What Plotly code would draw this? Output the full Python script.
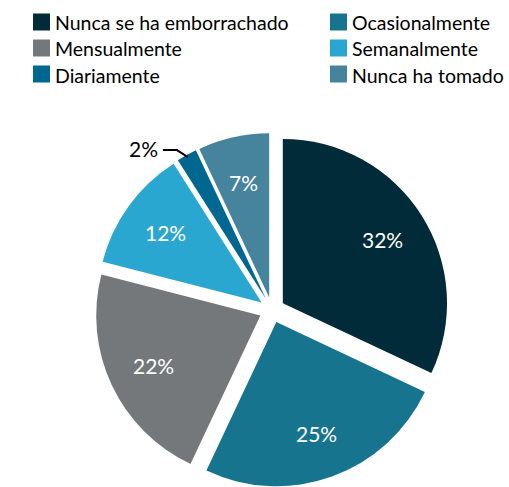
import math
import plotly.graph_objects as go

labels = ["Nunca se ha emborrachado", "Ocasionalmente", "Mensualmente",
          "Semanalmente", "Diariamente", "Nunca ha tomado"]
values = [32, 25, 22, 12, 2, 7]
colors = ["#022b3a", "#17748f", "#75787b", "#2aa7d0", "#006890", "#46849d"]

W, H = 509, 487
FONT = "Lato, 'Noto Sans', sans-serif"
PULL = 0.078

# pie geometry (pixels, from the top-left corner)
CX, CY, HALF = 272, 310, 177
R = HALF / (1 + PULL)
D = PULL * R

fig = go.Figure(go.Pie(
    labels=labels, values=values, sort=False, direction="clockwise", rotation=0,
    marker=dict(colors=colors, line=dict(width=0)),
    pull=[PULL] * len(values),
    textinfo="none",
    showlegend=False, hoverinfo="label+percent",
    domain=dict(x=[(CX - HALF) / W, (CX + HALF) / W], y=[0, 2 * HALF / H]),
))


def px(x):
    return x / W


def py(y):
    return 1 - y / H


shapes, annotations = [], []

# slice labels, placed from the values
total = sum(values)
cum = 0
for v in values:
    theta = math.radians((cum + v / 2) / total * 360)
    cum += v
    sx, sy = math.sin(theta), -math.cos(theta)
    vx, vy = CX + D * sx, CY + D * sy
    txt = f"{v}%"
    if v >= 5:
        lx, ly = vx + 0.72 * R * sx, vy + 0.72 * R * sy
        annotations.append(dict(text=txt, xref="paper", yref="paper",
                                x=px(lx), y=py(ly), showarrow=False,
                                xanchor="center", yanchor="middle",
                                font=dict(family=FONT, size=21, color="#ffffff")))
    else:
        x0, y0 = vx + 0.985 * R * sx, vy + 0.985 * R * sy
        x1, y1 = x0 - 11, y0 - 7
        x2, y2 = x1 - 14, y1
        shapes.append(dict(type="path", xref="paper", yref="paper",
                           path=f"M {px(x0)} {py(y0)} L {px(x1)} {py(y1)} L {px(x2)} {py(y2)}",
                           line=dict(color="#000000", width=2)))
        annotations.append(dict(text=txt, xref="paper", yref="paper",
                                x=px(x2 - 3), y=py(y2 - 2), showarrow=False,
                                xanchor="right", yanchor="middle",
                                font=dict(family=FONT, size=21, color="#000000")))

# custom legend, two columns by three rows
col_x = [33, 330]
row_y = [22, 48, 74]
sw = 17
for i, (lab, col) in enumerate(zip(labels, colors)):
    r, c = divmod(i, 2)
    x0 = col_x[c]
    yc = row_y[r]
    shapes.append(dict(type="rect", xref="paper", yref="paper",
                       x0=px(x0), x1=px(x0 + sw),
                       y0=py(yc + sw / 2), y1=py(yc - sw / 2),
                       fillcolor=col, line=dict(width=0)))
    annotations.append(dict(text=lab, xref="paper", yref="paper",
                            x=px(x0 + sw + 3), y=py(yc + 1),
                            xanchor="left", yanchor="middle", showarrow=False,
                            font=dict(family=FONT, size=19.5, color="#000000")))

fig.update_layout(
    width=W, height=H, margin=dict(l=0, r=0, t=0, b=0),
    paper_bgcolor="white", plot_bgcolor="white",
    shapes=shapes, annotations=annotations,
)

fig.write_html("out.html", config={"displayModeBar": False},
               post_script="document.body.style.margin='0px';document.body.style.overflow='hidden';")
